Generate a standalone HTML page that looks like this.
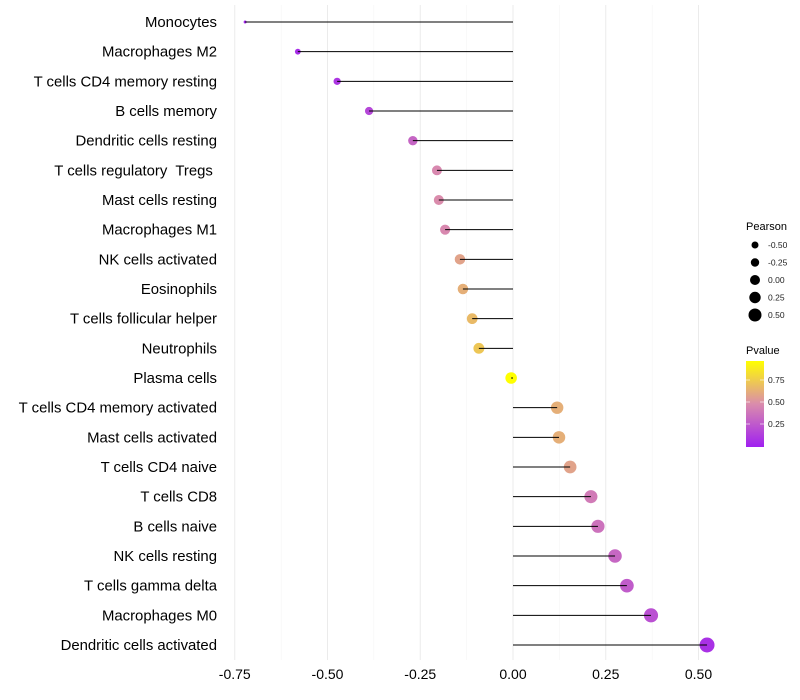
<!DOCTYPE html>
<html><head><meta charset="utf-8"><style>
body{margin:0;background:#fff;font-family:"Liberation Sans",sans-serif}
text{white-space:pre}
</style></head><body>
<svg id="chart" width="800" height="700" style="display:block"></svg>
<script>
const categories=["Monocytes","Macrophages M2","T cells CD4 memory resting","B cells memory","Dendritic cells resting","T cells regulatory  Tregs ","Mast cells resting","Macrophages M1","NK cells activated","Eosinophils","T cells follicular helper","Neutrophils","Plasma cells","T cells CD4 memory activated","Mast cells activated","T cells CD4 naive","T cells CD8","B cells naive","NK cells resting","T cells gamma delta","Macrophages M0","Dendritic cells activated"];
const pearson=[-0.722,-0.58,-0.474,-0.388,-0.27,-0.205,-0.2,-0.183,-0.143,-0.135,-0.11,-0.092,-0.005,0.119,0.124,0.154,0.21,0.229,0.275,0.307,0.372,0.523];
const pvalue=[0.02,0.06,0.1,0.18,0.32,0.48,0.5,0.48,0.6,0.65,0.7,0.75,1.0,0.65,0.65,0.6,0.42,0.38,0.33,0.28,0.22,0.08];
const xTicks=[-0.75,-0.5,-0.25,0,0.25,0.5];
const xTickLabels=["-0.75","-0.50","-0.25","0.00","0.25","0.50"];
const sizeLegend=[-0.5,-0.25,0,0.25,0.5];
const sizeLegendLabels=["-0.50","-0.25","0.00","0.25","0.50"];
const pTicks=[0.25,0.5,0.75];
const pTickLabels=["0.25","0.50","0.75"];

const NS="http://www.w3.org/2000/svg";
const svg=document.getElementById('chart');
function mk(t,a,p){const e=document.createElementNS(NS,t);for(const k in a)e.setAttribute(k,a[k]);(p||svg).appendChild(e);return e;}
const x=v=>513+v*371;
const y=i=>22+i*(623/21);
const r=v=>Math.sqrt(2.25+(v+0.722)/1.245*54);
function col(p){
  const stops=[[0,[160,32,240]],[0.5,[218,140,172]],[1,[255,255,0]]];
  let a=stops[0],b=stops[1];if(p>0.5){a=stops[1];b=stops[2];}
  const t=(p-a[0])/(b[0]-a[0]);
  const c=a[1].map((v,k)=>Math.round(v+(b[1][k]-v)*t));
  return `rgb(${c[0]},${c[1]},${c[2]})`;
}
xTicks.forEach((v,i)=>{
  const g=mk('line',{x1:x(v),x2:x(v),y1:5,y2:660,stroke:'#ebebeb','stroke-width':1});
  
  
  if(i<xTicks.length-1){const m=mk('line',{x1:x(v+0.125),x2:x(v+0.125),y1:5,y2:660,stroke:'#f5f5f5','stroke-width':0.6});
  
  }
  const t=mk('text',{x:x(v),y:679,'text-anchor':'middle','font-size':14,fill:'#000'});
  t.textContent=xTickLabels[i];
  
  
});
categories.forEach((c,i)=>{
  const t=mk('text',{x:217,y:y(i)+5,'text-anchor':'end','font-size':14.9,fill:'#000'});
  t.textContent=c;
  
  
  const d=mk('circle',{cx:x(pearson[i]),cy:y(i),r:r(pearson[i]),fill:col(pvalue[i])});
  
  
  const l=mk('line',{x1:x(0),x2:x(pearson[i]),y1:y(i),y2:y(i),stroke:'#000','stroke-width':1});
  
  
});
const lt=mk('text',{x:746,y:230,'font-size':11,fill:'#000'});lt.textContent='Pearson';


const legR=[3.5,4.2,5,5.7,6.5];
sizeLegend.forEach((v,i)=>{
  const cy=245+i*17.5;
  const c=mk('circle',{cx:755,cy:cy,r:legR[i],fill:'#000'});
  
  
  const t=mk('text',{x:768,y:cy+3,'font-size':8.5,fill:'#222'});t.textContent=sizeLegendLabels[i];
  
  
});
const pt=mk('text',{x:746,y:354,'font-size':11,fill:'#000'});pt.textContent='Pvalue';


const defs=mk('defs',{});
const lg=mk('linearGradient',{id:'pg',x1:0,y1:1,x2:0,y2:0},defs);
[0,0.25,0.5,0.75,1].forEach(s=>mk('stop',{offset:s,'stop-color':col(s)},lg));
const bar=mk('rect',{x:746,y:361,width:18,height:86,fill:'url(#pg)'});


pTicks.forEach((v,i)=>{
  const yy=446-v*88;
  mk('line',{x1:746,x2:750,y1:yy,y2:yy,stroke:'#fff','stroke-width':0.6});
  mk('line',{x1:760,x2:764,y1:yy,y2:yy,stroke:'#fff','stroke-width':0.6});
  const t=mk('text',{x:768,y:yy+3,'font-size':8.5,fill:'#222'});t.textContent=pTickLabels[i];
  
  
});
</script>
</body></html>
